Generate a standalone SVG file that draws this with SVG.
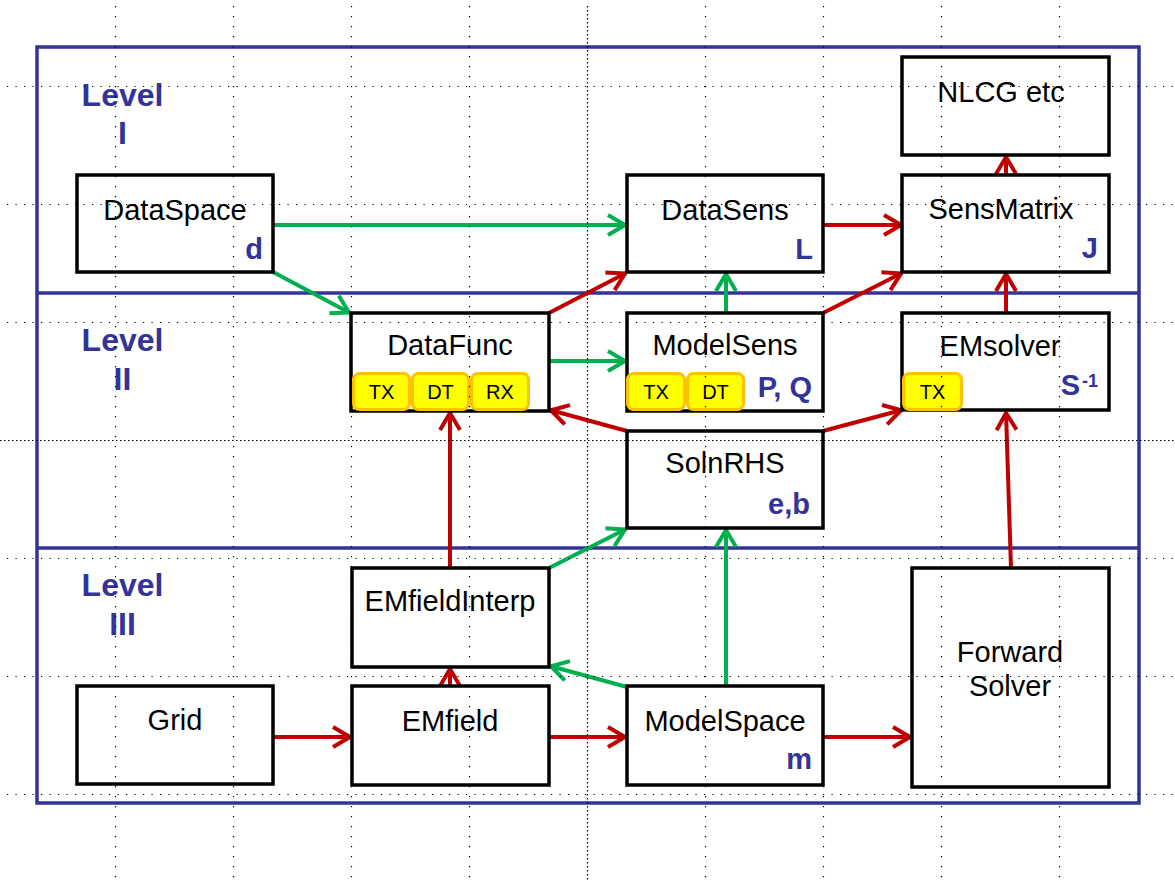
<svg xmlns="http://www.w3.org/2000/svg" width="1175" height="881" viewBox="0 0 1175 881">
<style>
.box{fill:none;stroke:#000;stroke-width:3.5}
.lbl{font-family:"Liberation Sans",Arial,sans-serif;font-size:29px;fill:#000;text-anchor:middle}
.sym{font-family:"Liberation Sans",Arial,sans-serif;font-size:29px;font-weight:bold;fill:#333399;text-anchor:end}
.lvl{font-family:"Liberation Sans",Arial,sans-serif;font-size:32px;font-weight:bold;fill:#333399;text-anchor:middle}
.tag{fill:#FFFF00;stroke:#FFC000;stroke-width:3}
.tagt{font-family:"Liberation Sans",Arial,sans-serif;font-size:20px;fill:#000;text-anchor:middle}
.band{fill:none;stroke:#333399;stroke-width:3.5}
.r{stroke:#C00000;stroke-width:4;fill:none;marker-end:url(#ar)}
.g{stroke:#00B050;stroke-width:4;fill:none;marker-end:url(#ag)}
.gv{stroke:#000;stroke-width:1.2;stroke-dasharray:1.2 8.8}
.gh{stroke:#000;stroke-width:1.2;stroke-dasharray:1.2 7.3}
.gd{stroke:#000;stroke-width:1.2;stroke-dasharray:1.5 2.5}
</style>
<defs>
<marker id="ar" markerUnits="userSpaceOnUse" viewBox="-24 -14 28 28" markerWidth="28" markerHeight="28" refX="0" refY="0" orient="auto">
<path d="M-18,-10 L-1,0 L-18,10" fill="none" stroke="#C00000" stroke-width="4" stroke-linejoin="round"/>
</marker>
<marker id="ag" markerUnits="userSpaceOnUse" viewBox="-24 -14 28 28" markerWidth="28" markerHeight="28" refX="0" refY="0" orient="auto">
<path d="M-18,-10 L-1,0 L-18,10" fill="none" stroke="#00B050" stroke-width="4" stroke-linejoin="round"/>
</marker>
</defs>
<rect width="1175" height="881" fill="#fff"/>

<g id="bands">
<rect class="band" x="37" y="47" width="1102" height="756"/>
<line class="band" x1="37" y1="293" x2="1139" y2="293"/>
<line class="band" x1="37" y1="548" x2="1139" y2="548"/>
</g>

<g id="levels">
<text class="lvl" x="122.5" y="106">Level</text>
<text class="lvl" x="122.5" y="144">I</text>
<text class="lvl" x="122.5" y="351">Level</text>
<text class="lvl" x="122.5" y="390">II</text>
<text class="lvl" x="122.5" y="596">Level</text>
<text class="lvl" x="122.5" y="635">III</text>
</g>

<g id="connectors">
<line class="g" x1="273" y1="225" x2="626" y2="225"/>
<line class="g" x1="273" y1="272" x2="350" y2="313"/>
<line class="g" x1="549" y1="361" x2="626" y2="361"/>
<line class="g" x1="726" y1="313" x2="726" y2="273"/>
<line class="g" x1="549" y1="568" x2="626" y2="529"/>
<line class="g" x1="726" y1="686" x2="726" y2="529"/>
<line class="g" x1="627" y1="687" x2="550" y2="666"/>
<line class="r" x1="823" y1="225" x2="902" y2="225"/>
<line class="r" x1="549" y1="313" x2="626" y2="273"/>
<line class="r" x1="823" y1="313" x2="902" y2="273"/>
<line class="r" x1="1006" y1="313" x2="1006" y2="273"/>
<line class="r" x1="1006" y1="175" x2="1006" y2="156"/>
<line class="r" x1="627" y1="431" x2="550" y2="410"/>
<line class="r" x1="823" y1="431" x2="902" y2="410"/>
<line class="r" x1="450" y1="568" x2="450" y2="412"/>
<line class="r" x1="450" y1="686" x2="450" y2="668"/>
<line class="r" x1="273" y1="737" x2="351" y2="737"/>
<line class="r" x1="549" y1="737" x2="626" y2="737"/>
<line class="r" x1="823" y1="737" x2="911" y2="737"/>
<line class="r" x1="1011" y1="568" x2="1006" y2="412"/>
</g>

<g id="DataSpace">
<rect class="box" x="77" y="175" width="196" height="97"/>
<text class="lbl" x="175" y="220">DataSpace</text>
<text class="sym" x="263" y="259">d</text>
</g>
<g id="DataSens">
<rect class="box" x="627" y="175" width="196" height="97"/>
<text class="lbl" x="725" y="220">DataSens</text>
<text class="sym" x="813" y="259">L</text>
</g>
<g id="SensMatrix">
<rect class="box" x="902" y="175" width="207" height="97"/>
<text class="lbl" x="1001" y="219">SensMatrix</text>
<text class="sym" x="1098" y="258">J</text>
</g>
<g id="NLCG">
<rect class="box" x="902" y="57" width="207" height="98"/>
<text class="lbl" x="1001" y="102">NLCG etc</text>
</g>
<g id="DataFunc">
<rect class="box" x="351" y="313" width="198" height="98"/>
<text class="lbl" x="450" y="355">DataFunc</text>
<rect class="tag" x="353.5" y="373.5" width="56" height="36" rx="6"/>
<rect class="tag" x="412.5" y="373.5" width="56" height="36" rx="6"/>
<rect class="tag" x="471.5" y="373.5" width="57" height="36" rx="6"/>
<text class="tagt" x="381.5" y="399">TX</text>
<text class="tagt" x="440.5" y="399">DT</text>
<text class="tagt" x="500" y="399">RX</text>
</g>
<g id="ModelSens">
<rect class="box" x="627" y="313" width="196" height="98"/>
<text class="lbl" x="725" y="355">ModelSens</text>
<rect class="tag" x="627.5" y="373.5" width="57" height="36" rx="6"/>
<rect class="tag" x="687.5" y="373.5" width="56" height="36" rx="6"/>
<text class="tagt" x="656" y="399">TX</text>
<text class="tagt" x="715.5" y="399">DT</text>
<text class="sym" x="812" y="397">P, Q</text>
</g>
<g id="EMsolver">
<rect class="box" x="902" y="313" width="207" height="97"/>
<text class="lbl" x="1000" y="356">EMsolver</text>
<rect class="tag" x="903.5" y="373.5" width="58" height="36" rx="6"/>
<text class="tagt" x="932.5" y="399">TX</text>
<text class="sym" x="1080" y="395">S</text>
<text class="sym" x="1098" y="387" style="font-size:18px">-1</text>
</g>
<g id="SolnRHS">
<rect class="box" x="627" y="431" width="196" height="97"/>
<text class="lbl" x="725" y="473">SolnRHS</text>
<text class="sym" x="810" y="514">e,b</text>
</g>
<g id="EMfieldInterp">
<rect class="box" x="352" y="568" width="197" height="99"/>
<text class="lbl" x="450" y="611">EMfieldInterp</text>
</g>
<g id="Grid">
<rect class="box" x="77" y="686" width="196" height="98"/>
<text class="lbl" x="175" y="730">Grid</text>
</g>
<g id="EMfield">
<rect class="box" x="352" y="686" width="197" height="99"/>
<text class="lbl" x="450" y="731">EMfield</text>
</g>
<g id="ModelSpace">
<rect class="box" x="627" y="686" width="196" height="99"/>
<text class="lbl" x="725" y="731">ModelSpace</text>
<text class="sym" x="812" y="769">m</text>
</g>
<g id="ForwardSolver">
<rect class="box" x="912" y="568" width="197" height="219"/>
<text class="lbl" x="1010" y="662">Forward</text>
<text class="lbl" x="1010" y="696">Solver</text>
</g>

<g id="guides">
<line class="gv" x1="115.5" y1="6" x2="115.5" y2="881"/>
<line class="gv" x1="233.5" y1="6" x2="233.5" y2="881"/>
<line class="gv" x1="351.5" y1="6" x2="351.5" y2="881"/>
<line class="gv" x1="469.5" y1="6" x2="469.5" y2="881"/>
<line class="gd" x1="587.5" y1="6" x2="587.5" y2="881"/>
<line class="gv" x1="705.5" y1="6" x2="705.5" y2="881"/>
<line class="gv" x1="823.5" y1="6" x2="823.5" y2="881"/>
<line class="gv" x1="941.5" y1="6" x2="941.5" y2="881"/>
<line class="gv" x1="1059.5" y1="6" x2="1059.5" y2="881"/>
<line class="gh" x1="7" y1="86.5" x2="1175" y2="86.5"/>
<line class="gh" x1="7" y1="204.5" x2="1175" y2="204.5"/>
<line class="gh" x1="7" y1="322.5" x2="1175" y2="322.5"/>
<line class="gd" x1="0" y1="440.5" x2="1175" y2="440.5"/>
<line class="gh" x1="7" y1="558.5" x2="1175" y2="558.5"/>
<line class="gh" x1="7" y1="676.5" x2="1175" y2="676.5"/>
<line class="gh" x1="7" y1="794.5" x2="1175" y2="794.5"/>
</g>
</svg>
